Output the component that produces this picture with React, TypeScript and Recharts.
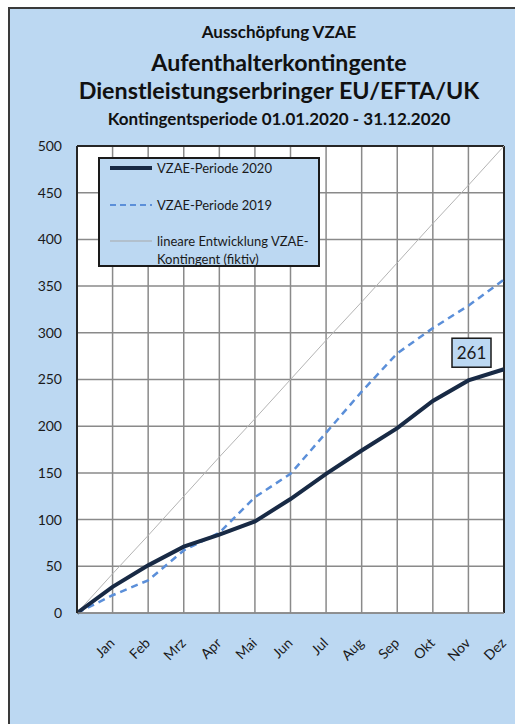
import React from "react";
import {
  LineChart,
  Line,
  XAxis,
  YAxis,
  CartesianGrid,
  ReferenceLine,
  LabelList,
} from "recharts";

const months = ["", "Jan", "Feb", "Mrz", "Apr", "Mai", "Jun", "Jul", "Aug", "Sep", "Okt", "Nov", "Dez"];
const periode2020 = [0, 28, 51, 71, 84, 98, 122, 149, 174, 198, 227, 249, 261];
const periode2019 = [0, 19, 35, 67, 86, 124, 149, 193, 237, 278, 305, 329, 357];
const linear = [0, 42, 83, 125, 167, 208, 250, 292, 333, 375, 417, 458, 500];
const yTicks = [0, 50, 100, 150, 200, 250, 300, 350, 400, 450, 500];

const titleLines = [
  { text: "Ausschöpfung VZAE", size: 17, top: 21 },
  { text: "Aufenthalterkontingente", size: 23.2, top: 48 },
  { text: "Dienstleistungserbringer EU/EFTA/UK", size: 23.3, top: 76 },
  { text: "Kontingentsperiode 01.01.2020 - 31.12.2020", size: 17, top: 108 },
];

const data = months.map((m, i) => ({
  month: m,
  v2020: periode2020[i],
  v2019: periode2019[i],
  linear: linear[i],
}));

const FONT = "Lato, 'Noto Sans', sans-serif";
const BG = "#bcd8f2";
const NAVY = "#182a45";
const BLUE = "#5b8fd9";

const MonthTick = ({ x, y, payload }: any) => (
  <text
    transform={`translate(${x + 3},${y + 23}) rotate(-45)`}
    textAnchor="end"
    fontSize={14}
    fontFamily={FONT}
    fill="#1a1a1a"
  >
    {payload.value}
  </text>
);

const LastLabel = (props: any) => {
  const { x, y, index, value } = props;
  if (index !== months.length - 1) return null;
  return (
    <g>
      <rect x={x - 52} y={y - 31} width={39} height={29} fill={BG} stroke="#1a1a1a" strokeWidth={1.5} />
      <text x={x - 32.5} y={y - 10.5} textAnchor="middle" fontSize={17} fontFamily={FONT} fill="#1a1a1a">
        {value}
      </text>
    </g>
  );
};

const LegendBox = () => (
  <div
    style={{
      position: "absolute",
      left: 98,
      top: 157,
      width: 222,
      height: 110,
      boxSizing: "border-box",
      background: BG,
      border: "2px solid #1a1a1a",
      fontFamily: FONT,
      fontSize: 13,
      color: "#1a1a1a",
    }}
  >
    <svg width={50} height={106} style={{ position: "absolute", left: 8, top: 0 }}>
      <line x1={2} x2={44} y1={9} y2={9} stroke={NAVY} strokeWidth={4} />
      <line x1={2} x2={44} y1={46} y2={46} stroke={BLUE} strokeWidth={2} strokeDasharray="6 4" />
      <line x1={2} x2={44} y1={82} y2={82} stroke="#a8a8a8" strokeWidth={1} />
    </svg>
    <div style={{ position: "absolute", left: 57, top: 0, lineHeight: "18px" }}>VZAE-Periode 2020</div>
    <div style={{ position: "absolute", left: 57, top: 37, lineHeight: "18px" }}>VZAE-Periode 2019</div>
    <div style={{ position: "absolute", left: 57, top: 73, lineHeight: "18px" }}>
      lineare Entwicklung VZAE-
      <br />
      Kontingent (fiktiv)
    </div>
  </div>
);

export default function App() {
  return (
    <div style={{ position: "absolute", left: 0, top: 0, width: 515, height: 724, overflow: "hidden", background: "#fff" }}>
      <div
        style={{
          position: "absolute",
          left: 8,
          top: 7,
          width: 530,
          height: 740,
          background: BG,
          borderLeft: "2px solid #3a3a3a",
          borderTop: "2px solid #3a3a3a",
        }}
      />
      {titleLines.map((t) => (
        <div
          key={t.text}
          style={{
            position: "absolute",
            left: 0,
            width: 558,
            top: t.top,
            textAlign: "center",
            fontFamily: FONT,
            fontWeight: 700,
            fontSize: t.size,
            color: "#111",
            whiteSpace: "nowrap",
          }}
        >
          {t.text}
        </div>
      ))}
      <div style={{ position: "absolute", left: 0, top: 0 }}>
        <LineChart width={515} height={724} data={data} margin={{ top: 146, right: 11, bottom: 0, left: 0 }}>
          <CartesianGrid fill="#ffffff" stroke="#8a8a8a" strokeWidth={1.5} />
          <XAxis
            dataKey="month"
            height={111}
            interval={0}
            tick={<MonthTick />}
            tickLine={false}
            axisLine={{ stroke: "#8a8a8a", strokeWidth: 1.5 }}
          />
          <YAxis
            width={77}
            domain={[0, 500]}
            ticks={yTicks}
            interval={0}
            tickLine={false}
            tickSize={8}
            tickMargin={7}
            axisLine={{ stroke: "#262626", strokeWidth: 2 }}
            tick={{ fontSize: 14, fontFamily: FONT, fill: "#1a1a1a" }}
          />
          <ReferenceLine y={500} stroke="#262626" strokeWidth={2} />
          <ReferenceLine x="Dez" stroke="#262626" strokeWidth={2} />
          <Line
            dataKey="linear"
            stroke="#b4b4b4"
            strokeWidth={1}
            dot={false}
            isAnimationActive={false}
          />
          <Line
            dataKey="v2019"
            stroke={BLUE}
            strokeWidth={2.5}
            strokeDasharray="7 5"
            dot={false}
            isAnimationActive={false}
          />
          <Line
            dataKey="v2020"
            stroke={NAVY}
            strokeWidth={4}
            dot={false}
            isAnimationActive={false}
          >
            <LabelList dataKey="v2020" content={<LastLabel />} />
          </Line>
        </LineChart>
      </div>
      <LegendBox />
    </div>
  );
}
